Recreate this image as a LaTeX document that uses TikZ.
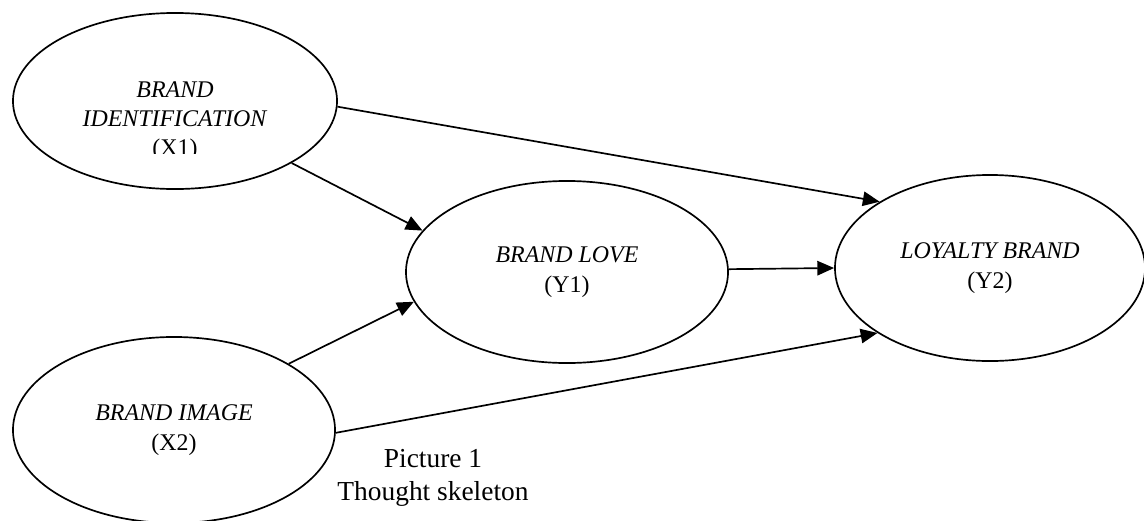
\documentclass[tikz,border=0pt]{standalone}
\usepackage{fontspec}
\setmainfont{Liberation Serif}
\usetikzlibrary{arrows.meta,shapes.geometric}

\begin{document}
\begin{tikzpicture}[x=0.025cm,y=-0.025cm,->,>={Triangle[length=0.42cm,width=0.36cm]},line width=1.2pt,
	var/.style={ellipse,draw,inner sep=0pt,align=center,font=\fontsize{17}{21}\selectfont}]

\useasboundingbox (0,0) rectangle (1144,520);

\node[var,minimum width=8.1cm,minimum height=4.4cm]	(X1) at (175,101)	{};
\begin{scope}
	\clip (0,0) rectangle (400,153);
	\node[align=center,font=\fontsize{17}{20.5}\selectfont] (X1txt) at (175,121) {\textit{BRAND}\\\textit{IDENTIFICATION}\\(X1)};
\end{scope}
\node[var,minimum width=8.05cm,minimum height=4.55cm]	(Y1) at (567,272)	{\textit{BRAND LOVE}\\(Y1)};
\node[var,minimum width=7.75cm,minimum height=4.65cm]	(Y2) at (990,268)	{\textit{LOYALTY BRAND}\\(Y2)};
\node[var,minimum width=8.05cm,minimum height=4.65cm]	(X2) at (174,430)	{\textit{BRAND IMAGE}\\(X2)};

\node[align=center,font=\fontsize{19.5}{23.5}\selectfont]	(cap) at (433,478)	{Picture 1\\Thought skeleton};

\path
	(X1.358)	edge (Y2.149)
	(X1.332)	edge (Y1.164)
	(X2.30)		edge (Y1.191)
	(X2.359)	edge (Y2.210)
	(Y1.1)		edge (Y2.west);
\end{tikzpicture}
\end{document}
